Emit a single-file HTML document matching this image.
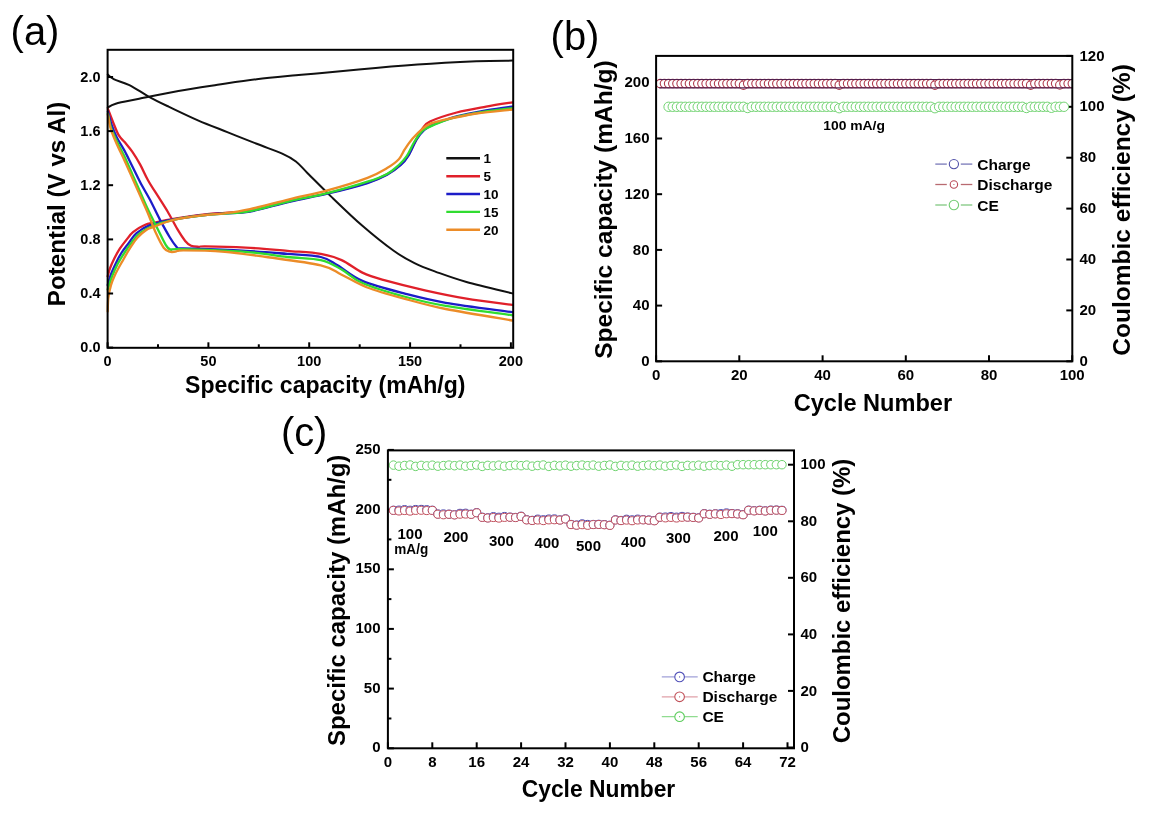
<!DOCTYPE html>
<html><head><meta charset="utf-8"><style>
html,body{margin:0;padding:0;background:#fff;}
svg{display:block;will-change:transform;}
text{font-family:"Liberation Sans",sans-serif;}
</style></head><body>
<svg width="1156" height="817" viewBox="0 0 1156 817">
<defs><clipPath id="clipb"><rect x="656.1" y="55.9" width="416.2" height="305.4"/></clipPath></defs>
<rect width="1156" height="817" fill="#fff"/>
<text x="10.61" y="44.80" font-size="40" font-weight="normal" fill="#000" textLength="48.78" lengthAdjust="spacingAndGlyphs">(a)</text>
<g fill="none" stroke-width="2.3" stroke-linejoin="round" stroke-linecap="round">
<path d="M107.8,74.5 C108.8,75.3 110.1,77.4 113.7,79.2 C117.3,81.0 123.5,82.2 129.4,85.1 C135.3,88.0 142.5,93.2 149.0,96.8 C155.5,100.4 160.4,102.7 168.6,106.6 C176.8,110.5 188.1,116.0 197.9,120.3 C207.7,124.5 217.5,128.2 227.3,132.1 C237.1,136.0 247.5,140.2 256.7,143.8 C265.8,147.4 275.7,150.7 282.2,153.6 C288.7,156.5 291.7,158.2 295.9,161.5 C300.1,164.8 301.7,167.3 307.6,173.2 C313.5,179.0 322.1,187.8 331.2,196.6 C340.3,205.4 352.0,216.8 362.4,225.8 C372.8,234.8 385.0,244.6 393.7,250.8 C402.4,257.0 407.6,259.7 414.5,263.2 C421.4,266.7 426.6,268.5 435.3,271.6 C444.0,274.7 453.7,278.4 466.5,282.0 C479.3,285.6 504.7,291.5 512.3,293.4" stroke="#111111" stroke-width="2.0"/>
<path d="M107.8,107.6 C109.1,106.9 110.5,105.2 115.7,103.7 C120.9,102.2 128.8,100.9 139.2,98.8 C149.6,96.7 165.3,93.2 178.4,90.9 C191.5,88.6 204.4,86.7 217.5,84.7 C230.6,82.8 243.6,80.8 256.7,79.2 C269.8,77.6 285.4,76.3 295.9,75.3 C306.3,74.3 308.9,74.3 319.4,73.3 C329.9,72.3 342.4,70.9 358.8,69.4 C375.2,67.9 397.9,65.9 417.5,64.5 C437.1,63.1 460.5,61.9 476.3,61.2 C492.1,60.6 506.5,60.7 512.5,60.6" stroke="#111111" stroke-width="2.0"/>
<path d="M107.9,108.8 C108.7,110.9 111.0,117.1 112.8,121.5 C114.6,125.9 116.7,131.8 118.7,135.2 C120.7,138.6 122.3,139.3 124.6,142.1 C126.9,144.9 129.8,148.2 132.4,151.9 C135.0,155.7 137.6,159.9 140.2,164.6 C142.8,169.3 145.1,175.0 148.0,180.2 C150.9,185.4 154.5,190.7 157.8,195.9 C161.1,201.1 164.3,205.9 167.6,211.5 C170.9,217.1 174.5,224.3 177.4,229.2 C180.3,234.1 182.9,238.1 185.2,240.9 C187.5,243.7 188.8,244.8 191.1,245.8 C193.4,246.8 196.6,246.7 198.9,246.8 C201.2,246.9 197.2,246.3 205.0,246.4 C212.8,246.5 232.0,246.9 245.7,247.6 C259.4,248.3 274.8,249.8 287.3,250.8 C299.8,251.9 311.8,252.3 320.8,253.9 C329.9,255.5 334.7,257.0 341.6,260.1 C348.5,263.2 355.5,269.3 362.4,272.6 C369.3,275.9 372.8,276.9 383.2,279.9 C393.6,282.8 411.0,287.2 424.9,290.3 C438.8,293.4 451.9,296.2 466.5,298.6 C481.1,301.0 504.7,303.8 512.3,304.9" stroke="#e0202a"/>
<path d="M107.7,276.3 C108.1,275.0 108.8,271.4 109.9,268.5 C111.0,265.6 112.7,261.9 114.3,258.6 C115.9,255.3 117.8,251.8 119.8,248.7 C121.8,245.6 124.2,242.7 126.4,239.9 C128.6,237.2 130.1,234.6 133.0,232.2 C135.9,229.8 140.3,226.8 144.1,225.2 C147.9,223.5 151.0,223.3 155.9,222.3 C160.8,221.3 165.3,220.3 173.5,219.0 C181.7,217.7 196.4,215.5 205.0,214.5 C213.6,213.5 217.4,213.4 224.9,212.8 C232.4,212.2 239.3,212.9 250.0,211.0 C260.7,209.1 276.1,204.3 289.2,201.3 C302.2,198.3 315.2,196.1 328.3,193.0 C341.4,189.9 357.7,185.7 367.5,182.6 C377.3,179.5 381.6,177.3 387.1,174.3 C392.7,171.3 397.2,167.8 400.8,164.5 C404.4,161.2 406.0,159.0 408.6,154.8 C411.2,150.6 414.2,143.5 416.5,139.1 C418.8,134.7 420.2,131.4 422.5,128.5 C424.8,125.6 424.3,124.2 430.0,121.5 C435.7,118.8 447.3,115.0 456.7,112.5 C466.1,110.0 476.8,108.3 486.1,106.6 C495.4,104.9 508.1,103.0 512.5,102.3" stroke="#e0202a"/>
<path d="M107.9,111.7 C108.6,114.0 110.3,121.2 111.8,125.4 C113.3,129.7 114.6,132.9 116.7,137.2 C118.8,141.4 122.0,146.0 124.6,150.9 C127.2,155.8 129.8,161.3 132.4,166.5 C135.0,171.7 137.3,176.6 140.2,182.2 C143.1,187.8 146.7,193.6 150.0,199.8 C153.3,206.0 156.5,213.2 159.8,219.4 C163.1,225.6 166.8,232.4 169.6,237.0 C172.4,241.6 174.8,244.9 176.4,246.8 C178.0,248.7 176.6,248.0 179.4,248.3 C182.2,248.6 182.1,248.3 193.1,248.7 C204.1,249.1 230.0,249.9 245.7,250.8 C261.4,251.7 274.8,252.9 287.3,253.9 C299.8,254.9 312.4,255.1 320.8,257.0 C329.2,258.9 330.6,261.3 337.5,265.3 C344.4,269.3 351.3,276.2 362.4,280.9 C373.5,285.6 390.1,289.8 404.0,293.4 C417.9,297.0 427.6,299.7 445.7,302.8 C463.8,305.9 501.2,310.6 512.3,312.2" stroke="#1c1cc8"/>
<path d="M107.7,285.1 C108.2,283.3 109.5,278.0 111.0,274.1 C112.5,270.2 114.7,265.6 116.5,261.9 C118.3,258.2 120.0,255.1 122.0,252.0 C124.0,248.9 126.2,246.3 128.6,243.2 C131.0,240.1 132.7,236.3 136.3,233.3 C139.9,230.3 143.8,227.5 150.0,225.2 C156.2,222.9 164.3,221.2 173.5,219.5 C182.7,217.8 196.4,216.0 205.0,215.0 C213.6,214.0 217.4,213.9 224.9,213.3 C232.4,212.7 239.3,213.4 250.0,211.5 C260.7,209.6 276.1,204.8 289.2,201.8 C302.2,198.8 315.2,196.6 328.3,193.5 C341.4,190.4 357.7,186.2 367.5,183.1 C377.3,180.0 381.6,177.8 387.1,174.8 C392.7,171.8 397.2,168.2 400.8,165.0 C404.4,161.8 406.0,159.5 408.6,155.3 C411.2,151.1 413.9,143.8 416.5,139.6 C419.1,135.3 421.5,132.3 424.3,129.8 C427.1,127.3 427.8,126.8 433.2,124.6 C438.6,122.4 447.9,118.8 456.7,116.4 C465.5,114.1 476.8,112.1 486.1,110.5 C495.4,108.9 508.1,107.2 512.5,106.6" stroke="#1c1cc8"/>
<path d="M107.9,113.7 C108.4,116.0 109.4,122.8 110.9,127.4 C112.4,132.0 114.4,136.2 116.7,141.1 C119.0,146.0 122.0,151.2 124.6,156.8 C127.2,162.4 129.8,168.5 132.4,174.4 C135.0,180.3 137.6,186.1 140.2,192.0 C142.8,197.9 145.1,203.4 148.0,209.6 C150.9,215.8 154.9,223.3 157.8,229.2 C160.8,235.1 163.6,241.4 165.7,244.8 C167.8,248.2 168.3,249.0 170.6,249.7 C172.9,250.4 166.9,248.8 179.4,249.1 C191.9,249.4 227.7,250.5 245.7,251.8 C263.7,253.1 274.8,255.6 287.3,257.0 C299.8,258.4 311.8,258.0 320.8,260.1 C329.9,262.2 334.7,265.7 341.6,269.5 C348.5,273.3 352.0,278.5 362.4,283.0 C372.8,287.5 390.1,292.7 404.0,296.5 C417.9,300.3 427.6,302.8 445.7,305.9 C463.8,309.0 501.2,313.7 512.3,315.3" stroke="#30dc30"/>
<path d="M107.7,289.5 C108.4,287.3 110.4,280.5 112.1,276.3 C113.8,272.1 115.6,268.0 117.6,264.1 C119.6,260.2 121.8,256.8 124.2,253.1 C126.6,249.4 129.3,245.4 131.9,242.1 C134.5,238.8 136.2,236.0 139.6,233.3 C142.9,230.7 146.3,228.4 152.0,226.2 C157.7,223.9 164.7,221.6 173.5,219.8 C182.3,218.0 196.4,216.2 205.0,215.2 C213.6,214.2 217.4,214.3 224.9,213.6 C232.4,212.9 239.3,213.1 250.0,211.1 C260.7,209.1 276.1,204.3 289.2,201.3 C302.2,198.3 315.2,196.2 328.3,192.9 C341.4,189.6 357.7,184.9 367.5,181.7 C377.3,178.5 381.9,176.7 387.1,173.9 C392.3,171.1 395.5,167.9 398.8,165.0 C402.1,162.1 404.1,160.1 406.7,156.2 C409.3,152.3 411.9,145.7 414.5,141.5 C417.1,137.3 419.7,133.3 422.3,130.8 C424.9,128.3 427.1,128.0 430.0,126.6 C432.9,125.2 435.6,124.0 440.0,122.4 C444.4,120.8 449.0,118.7 456.7,116.9 C464.4,115.1 476.8,113.0 486.1,111.5 C495.4,110.0 508.1,108.8 512.5,108.2" stroke="#30dc30"/>
<path d="M107.9,114.7 C108.4,117.2 109.4,124.5 110.9,129.4 C112.4,134.3 114.4,138.8 116.7,144.0 C119.0,149.2 122.0,155.0 124.6,160.7 C127.2,166.4 129.8,172.4 132.4,178.3 C135.0,184.2 137.6,190.0 140.2,195.9 C142.8,201.8 145.4,207.3 148.0,213.5 C150.6,219.7 153.3,227.4 155.9,233.1 C158.5,238.8 161.4,244.6 163.7,247.7 C166.0,250.8 167.6,251.0 169.6,251.7 C171.6,252.4 173.2,251.9 175.5,251.7 C177.8,251.5 175.1,250.3 183.3,250.3 C191.5,250.3 211.0,250.7 224.9,251.8 C238.8,252.9 250.5,254.8 266.5,257.0 C282.5,259.2 308.3,262.4 320.8,265.3 C333.3,268.2 334.0,271.1 341.6,274.7 C349.2,278.3 356.2,283.2 366.6,287.2 C377.0,291.2 390.8,295.0 404.0,298.6 C417.2,302.2 427.6,305.4 445.7,309.0 C463.8,312.6 501.2,318.6 512.3,320.5" stroke="#ec8c28"/>
<path d="M107.7,311.5 C107.8,309.3 107.8,302.7 108.3,298.3 C108.8,293.9 109.8,289.1 111.0,285.1 C112.2,281.1 113.6,278.0 115.4,274.1 C117.2,270.2 119.6,266.1 122.0,261.9 C124.4,257.7 127.1,252.7 129.7,248.7 C132.3,244.7 134.6,240.8 137.4,237.7 C140.2,234.6 143.6,231.8 146.3,230.0 C149.1,228.2 149.4,228.5 153.9,226.8 C158.4,225.1 165.0,221.8 173.5,219.8 C182.0,217.8 196.4,216.1 205.0,215.0 C213.6,213.9 217.4,214.3 224.9,213.3 C232.4,212.3 239.3,211.4 250.0,209.1 C260.7,206.8 276.1,202.5 289.2,199.3 C302.2,196.1 315.2,193.7 328.3,190.1 C341.4,186.5 357.7,181.5 367.5,177.8 C377.3,174.1 381.9,171.1 387.1,168.0 C392.3,164.9 395.9,162.3 398.8,159.2 C401.7,156.1 402.4,152.8 404.7,149.4 C407.0,146.0 409.7,142.0 412.6,138.6 C415.5,135.2 419.4,131.2 422.3,128.8 C425.2,126.4 427.1,125.2 430.0,123.9 C432.9,122.6 432.3,122.5 440.0,120.8 C447.7,119.1 464.2,115.4 476.3,113.5 C488.4,111.6 506.5,110.2 512.5,109.5" stroke="#ec8c28"/>
</g>
<rect x="107.6" y="49.8" width="405.6" height="298.0" fill="none" stroke="#000" stroke-width="2"/>
<line x1="107.6" y1="347.8" x2="107.6" y2="342.3" stroke="#000" stroke-width="2"/>
<text x="107.6" y="366.0" font-size="14.5" font-weight="bold" text-anchor="middle" fill="#000">0</text>
<line x1="158.0" y1="347.8" x2="158.0" y2="344.3" stroke="#000" stroke-width="2"/>
<line x1="208.4" y1="347.8" x2="208.4" y2="342.3" stroke="#000" stroke-width="2"/>
<text x="208.4" y="366.0" font-size="14.5" font-weight="bold" text-anchor="middle" fill="#000">50</text>
<line x1="258.8" y1="347.8" x2="258.8" y2="344.3" stroke="#000" stroke-width="2"/>
<line x1="309.2" y1="347.8" x2="309.2" y2="342.3" stroke="#000" stroke-width="2"/>
<text x="309.2" y="366.0" font-size="14.5" font-weight="bold" text-anchor="middle" fill="#000">100</text>
<line x1="359.7" y1="347.8" x2="359.7" y2="344.3" stroke="#000" stroke-width="2"/>
<line x1="410.1" y1="347.8" x2="410.1" y2="342.3" stroke="#000" stroke-width="2"/>
<text x="410.1" y="366.0" font-size="14.5" font-weight="bold" text-anchor="middle" fill="#000">150</text>
<line x1="460.5" y1="347.8" x2="460.5" y2="344.3" stroke="#000" stroke-width="2"/>
<line x1="510.9" y1="347.8" x2="510.9" y2="342.3" stroke="#000" stroke-width="2"/>
<text x="510.9" y="366.0" font-size="14.5" font-weight="bold" text-anchor="middle" fill="#000">200</text>
<line x1="107.6" y1="347.6" x2="113.1" y2="347.6" stroke="#000" stroke-width="2"/>
<text x="100.5" y="352.1" font-size="14.5" font-weight="bold" text-anchor="end" fill="#000">0.0</text>
<line x1="107.6" y1="293.5" x2="113.1" y2="293.5" stroke="#000" stroke-width="2"/>
<text x="100.5" y="298.0" font-size="14.5" font-weight="bold" text-anchor="end" fill="#000">0.4</text>
<line x1="107.6" y1="239.4" x2="113.1" y2="239.4" stroke="#000" stroke-width="2"/>
<text x="100.5" y="243.9" font-size="14.5" font-weight="bold" text-anchor="end" fill="#000">0.8</text>
<line x1="107.6" y1="185.2" x2="113.1" y2="185.2" stroke="#000" stroke-width="2"/>
<text x="100.5" y="189.7" font-size="14.5" font-weight="bold" text-anchor="end" fill="#000">1.2</text>
<line x1="107.6" y1="131.1" x2="113.1" y2="131.1" stroke="#000" stroke-width="2"/>
<text x="100.5" y="135.6" font-size="14.5" font-weight="bold" text-anchor="end" fill="#000">1.6</text>
<line x1="107.6" y1="77.0" x2="113.1" y2="77.0" stroke="#000" stroke-width="2"/>
<text x="100.5" y="81.5" font-size="14.5" font-weight="bold" text-anchor="end" fill="#000">2.0</text>
<text x="185.01" y="392.90" font-size="23" font-weight="bold" fill="#000" textLength="280.55" lengthAdjust="spacingAndGlyphs">Specific capacity (mAh/g)</text>
<text x="65.20" y="306.17" font-size="23" font-weight="bold" fill="#000" textLength="204.47" lengthAdjust="spacingAndGlyphs" transform="rotate(-90 65.20 306.17)">Potential (V vs Al)</text>
<line x1="446.3" y1="158.3" x2="480.0" y2="158.3" stroke="#111111" stroke-width="2.4"/>
<text x="483.5" y="163.3" font-size="13.5" font-weight="bold" text-anchor="start" fill="#000">1</text>
<line x1="446.3" y1="176.2" x2="480.0" y2="176.2" stroke="#e0202a" stroke-width="2.4"/>
<text x="483.5" y="181.2" font-size="13.5" font-weight="bold" text-anchor="start" fill="#000">5</text>
<line x1="446.3" y1="194.0" x2="480.0" y2="194.0" stroke="#1c1cc8" stroke-width="2.4"/>
<text x="483.5" y="199.0" font-size="13.5" font-weight="bold" text-anchor="start" fill="#000">10</text>
<line x1="446.3" y1="211.9" x2="480.0" y2="211.9" stroke="#30dc30" stroke-width="2.4"/>
<text x="483.5" y="216.9" font-size="13.5" font-weight="bold" text-anchor="start" fill="#000">15</text>
<line x1="446.3" y1="229.7" x2="480.0" y2="229.7" stroke="#ec8c28" stroke-width="2.4"/>
<text x="483.5" y="234.7" font-size="13.5" font-weight="bold" text-anchor="start" fill="#000">20</text>
<text x="550.61" y="50.00" font-size="40" font-weight="normal" fill="#000" textLength="48.78" lengthAdjust="spacingAndGlyphs">(b)</text>
<line x1="656.1" y1="361.3" x2="656.1" y2="355.3" stroke="#000" stroke-width="2"/>
<text x="656.1" y="380.2" font-size="15" font-weight="bold" text-anchor="middle" fill="#000">0</text>
<line x1="739.3" y1="361.3" x2="739.3" y2="355.3" stroke="#000" stroke-width="2"/>
<text x="739.3" y="380.2" font-size="15" font-weight="bold" text-anchor="middle" fill="#000">20</text>
<line x1="822.6" y1="361.3" x2="822.6" y2="355.3" stroke="#000" stroke-width="2"/>
<text x="822.6" y="380.2" font-size="15" font-weight="bold" text-anchor="middle" fill="#000">40</text>
<line x1="905.8" y1="361.3" x2="905.8" y2="355.3" stroke="#000" stroke-width="2"/>
<text x="905.8" y="380.2" font-size="15" font-weight="bold" text-anchor="middle" fill="#000">60</text>
<line x1="989.0" y1="361.3" x2="989.0" y2="355.3" stroke="#000" stroke-width="2"/>
<text x="989.0" y="380.2" font-size="15" font-weight="bold" text-anchor="middle" fill="#000">80</text>
<line x1="1072.2" y1="361.3" x2="1072.2" y2="355.3" stroke="#000" stroke-width="2"/>
<text x="1072.2" y="380.2" font-size="15" font-weight="bold" text-anchor="middle" fill="#000">100</text>
<line x1="656.1" y1="361.3" x2="662.1" y2="361.3" stroke="#000" stroke-width="2"/>
<text x="649.5" y="365.9" font-size="15" font-weight="bold" text-anchor="end" fill="#000">0</text>
<line x1="656.1" y1="305.6" x2="662.1" y2="305.6" stroke="#000" stroke-width="2"/>
<text x="649.5" y="310.2" font-size="15" font-weight="bold" text-anchor="end" fill="#000">40</text>
<line x1="656.1" y1="249.9" x2="662.1" y2="249.9" stroke="#000" stroke-width="2"/>
<text x="649.5" y="254.5" font-size="15" font-weight="bold" text-anchor="end" fill="#000">80</text>
<line x1="656.1" y1="194.2" x2="662.1" y2="194.2" stroke="#000" stroke-width="2"/>
<text x="649.5" y="198.8" font-size="15" font-weight="bold" text-anchor="end" fill="#000">120</text>
<line x1="656.1" y1="138.5" x2="662.1" y2="138.5" stroke="#000" stroke-width="2"/>
<text x="649.5" y="143.1" font-size="15" font-weight="bold" text-anchor="end" fill="#000">160</text>
<line x1="656.1" y1="82.8" x2="662.1" y2="82.8" stroke="#000" stroke-width="2"/>
<text x="649.5" y="87.4" font-size="15" font-weight="bold" text-anchor="end" fill="#000">200</text>
<line x1="1072.3" y1="361.3" x2="1066.3" y2="361.3" stroke="#000" stroke-width="2"/>
<text x="1079.5" y="365.9" font-size="15" font-weight="bold" text-anchor="start" fill="#000">0</text>
<line x1="1072.3" y1="310.4" x2="1066.3" y2="310.4" stroke="#000" stroke-width="2"/>
<text x="1079.5" y="315.0" font-size="15" font-weight="bold" text-anchor="start" fill="#000">20</text>
<line x1="1072.3" y1="259.5" x2="1066.3" y2="259.5" stroke="#000" stroke-width="2"/>
<text x="1079.5" y="264.1" font-size="15" font-weight="bold" text-anchor="start" fill="#000">40</text>
<line x1="1072.3" y1="208.6" x2="1066.3" y2="208.6" stroke="#000" stroke-width="2"/>
<text x="1079.5" y="213.2" font-size="15" font-weight="bold" text-anchor="start" fill="#000">60</text>
<line x1="1072.3" y1="157.7" x2="1066.3" y2="157.7" stroke="#000" stroke-width="2"/>
<text x="1079.5" y="162.3" font-size="15" font-weight="bold" text-anchor="start" fill="#000">80</text>
<line x1="1072.3" y1="106.8" x2="1066.3" y2="106.8" stroke="#000" stroke-width="2"/>
<text x="1079.5" y="111.4" font-size="15" font-weight="bold" text-anchor="start" fill="#000">100</text>
<line x1="1072.3" y1="55.9" x2="1066.3" y2="55.9" stroke="#000" stroke-width="2"/>
<text x="1079.5" y="60.5" font-size="15" font-weight="bold" text-anchor="start" fill="#000">120</text>
<g clip-path="url(#clipb)"><circle cx="660.26" cy="83.60" r="4.2" fill="#fff" stroke="#b03a4c" stroke-width="1.1"/><circle cx="664.42" cy="83.60" r="4.2" fill="#fff" stroke="#b03a4c" stroke-width="1.1"/><circle cx="668.58" cy="83.60" r="4.2" fill="#fff" stroke="#b03a4c" stroke-width="1.1"/><circle cx="672.75" cy="83.60" r="4.2" fill="#fff" stroke="#b03a4c" stroke-width="1.1"/><circle cx="676.91" cy="83.60" r="4.2" fill="#fff" stroke="#b03a4c" stroke-width="1.1"/><circle cx="681.07" cy="83.60" r="4.2" fill="#fff" stroke="#b03a4c" stroke-width="1.1"/><circle cx="685.23" cy="83.60" r="4.2" fill="#fff" stroke="#b03a4c" stroke-width="1.1"/><circle cx="689.39" cy="83.60" r="4.2" fill="#fff" stroke="#b03a4c" stroke-width="1.1"/><circle cx="693.55" cy="83.60" r="4.2" fill="#fff" stroke="#b03a4c" stroke-width="1.1"/><circle cx="697.72" cy="83.60" r="4.2" fill="#fff" stroke="#b03a4c" stroke-width="1.1"/><circle cx="701.88" cy="83.60" r="4.2" fill="#fff" stroke="#b03a4c" stroke-width="1.1"/><circle cx="706.04" cy="83.60" r="4.2" fill="#fff" stroke="#b03a4c" stroke-width="1.1"/><circle cx="710.20" cy="83.60" r="4.2" fill="#fff" stroke="#b03a4c" stroke-width="1.1"/><circle cx="714.36" cy="83.60" r="4.2" fill="#fff" stroke="#b03a4c" stroke-width="1.1"/><circle cx="718.52" cy="83.60" r="4.2" fill="#fff" stroke="#b03a4c" stroke-width="1.1"/><circle cx="722.68" cy="83.60" r="4.2" fill="#fff" stroke="#b03a4c" stroke-width="1.1"/><circle cx="726.85" cy="83.60" r="4.2" fill="#fff" stroke="#b03a4c" stroke-width="1.1"/><circle cx="731.01" cy="83.60" r="4.2" fill="#fff" stroke="#b03a4c" stroke-width="1.1"/><circle cx="735.17" cy="83.60" r="4.2" fill="#fff" stroke="#b03a4c" stroke-width="1.1"/><circle cx="739.33" cy="83.60" r="4.2" fill="#fff" stroke="#b03a4c" stroke-width="1.1"/><circle cx="743.49" cy="85.20" r="4.2" fill="#fff" stroke="#b03a4c" stroke-width="1.1"/><circle cx="747.65" cy="83.60" r="4.2" fill="#fff" stroke="#b03a4c" stroke-width="1.1"/><circle cx="751.81" cy="83.60" r="4.2" fill="#fff" stroke="#b03a4c" stroke-width="1.1"/><circle cx="755.98" cy="83.60" r="4.2" fill="#fff" stroke="#b03a4c" stroke-width="1.1"/><circle cx="760.14" cy="83.60" r="4.2" fill="#fff" stroke="#b03a4c" stroke-width="1.1"/><circle cx="764.30" cy="83.60" r="4.2" fill="#fff" stroke="#b03a4c" stroke-width="1.1"/><circle cx="768.46" cy="83.60" r="4.2" fill="#fff" stroke="#b03a4c" stroke-width="1.1"/><circle cx="772.62" cy="83.60" r="4.2" fill="#fff" stroke="#b03a4c" stroke-width="1.1"/><circle cx="776.78" cy="83.60" r="4.2" fill="#fff" stroke="#b03a4c" stroke-width="1.1"/><circle cx="780.95" cy="83.60" r="4.2" fill="#fff" stroke="#b03a4c" stroke-width="1.1"/><circle cx="785.11" cy="83.60" r="4.2" fill="#fff" stroke="#b03a4c" stroke-width="1.1"/><circle cx="789.27" cy="83.60" r="4.2" fill="#fff" stroke="#b03a4c" stroke-width="1.1"/><circle cx="793.43" cy="83.60" r="4.2" fill="#fff" stroke="#b03a4c" stroke-width="1.1"/><circle cx="797.59" cy="83.60" r="4.2" fill="#fff" stroke="#b03a4c" stroke-width="1.1"/><circle cx="801.75" cy="83.60" r="4.2" fill="#fff" stroke="#b03a4c" stroke-width="1.1"/><circle cx="805.91" cy="83.60" r="4.2" fill="#fff" stroke="#b03a4c" stroke-width="1.1"/><circle cx="810.08" cy="83.60" r="4.2" fill="#fff" stroke="#b03a4c" stroke-width="1.1"/><circle cx="814.24" cy="83.60" r="4.2" fill="#fff" stroke="#b03a4c" stroke-width="1.1"/><circle cx="818.40" cy="83.60" r="4.2" fill="#fff" stroke="#b03a4c" stroke-width="1.1"/><circle cx="822.56" cy="83.60" r="4.2" fill="#fff" stroke="#b03a4c" stroke-width="1.1"/><circle cx="826.72" cy="83.60" r="4.2" fill="#fff" stroke="#b03a4c" stroke-width="1.1"/><circle cx="830.88" cy="83.60" r="4.2" fill="#fff" stroke="#b03a4c" stroke-width="1.1"/><circle cx="835.04" cy="83.60" r="4.2" fill="#fff" stroke="#b03a4c" stroke-width="1.1"/><circle cx="839.21" cy="85.20" r="4.2" fill="#fff" stroke="#b03a4c" stroke-width="1.1"/><circle cx="843.37" cy="83.60" r="4.2" fill="#fff" stroke="#b03a4c" stroke-width="1.1"/><circle cx="847.53" cy="83.60" r="4.2" fill="#fff" stroke="#b03a4c" stroke-width="1.1"/><circle cx="851.69" cy="83.60" r="4.2" fill="#fff" stroke="#b03a4c" stroke-width="1.1"/><circle cx="855.85" cy="83.60" r="4.2" fill="#fff" stroke="#b03a4c" stroke-width="1.1"/><circle cx="860.01" cy="83.60" r="4.2" fill="#fff" stroke="#b03a4c" stroke-width="1.1"/><circle cx="864.18" cy="83.60" r="4.2" fill="#fff" stroke="#b03a4c" stroke-width="1.1"/><circle cx="868.34" cy="83.60" r="4.2" fill="#fff" stroke="#b03a4c" stroke-width="1.1"/><circle cx="872.50" cy="83.60" r="4.2" fill="#fff" stroke="#b03a4c" stroke-width="1.1"/><circle cx="876.66" cy="83.60" r="4.2" fill="#fff" stroke="#b03a4c" stroke-width="1.1"/><circle cx="880.82" cy="83.60" r="4.2" fill="#fff" stroke="#b03a4c" stroke-width="1.1"/><circle cx="884.98" cy="83.60" r="4.2" fill="#fff" stroke="#b03a4c" stroke-width="1.1"/><circle cx="889.14" cy="83.60" r="4.2" fill="#fff" stroke="#b03a4c" stroke-width="1.1"/><circle cx="893.31" cy="83.60" r="4.2" fill="#fff" stroke="#b03a4c" stroke-width="1.1"/><circle cx="897.47" cy="83.60" r="4.2" fill="#fff" stroke="#b03a4c" stroke-width="1.1"/><circle cx="901.63" cy="83.60" r="4.2" fill="#fff" stroke="#b03a4c" stroke-width="1.1"/><circle cx="905.79" cy="83.60" r="4.2" fill="#fff" stroke="#b03a4c" stroke-width="1.1"/><circle cx="909.95" cy="83.60" r="4.2" fill="#fff" stroke="#b03a4c" stroke-width="1.1"/><circle cx="914.11" cy="83.60" r="4.2" fill="#fff" stroke="#b03a4c" stroke-width="1.1"/><circle cx="918.27" cy="83.60" r="4.2" fill="#fff" stroke="#b03a4c" stroke-width="1.1"/><circle cx="922.44" cy="83.60" r="4.2" fill="#fff" stroke="#b03a4c" stroke-width="1.1"/><circle cx="926.60" cy="83.60" r="4.2" fill="#fff" stroke="#b03a4c" stroke-width="1.1"/><circle cx="930.76" cy="83.60" r="4.2" fill="#fff" stroke="#b03a4c" stroke-width="1.1"/><circle cx="934.92" cy="85.20" r="4.2" fill="#fff" stroke="#b03a4c" stroke-width="1.1"/><circle cx="939.08" cy="83.60" r="4.2" fill="#fff" stroke="#b03a4c" stroke-width="1.1"/><circle cx="943.24" cy="83.60" r="4.2" fill="#fff" stroke="#b03a4c" stroke-width="1.1"/><circle cx="947.40" cy="83.60" r="4.2" fill="#fff" stroke="#b03a4c" stroke-width="1.1"/><circle cx="951.57" cy="83.60" r="4.2" fill="#fff" stroke="#b03a4c" stroke-width="1.1"/><circle cx="955.73" cy="83.60" r="4.2" fill="#fff" stroke="#b03a4c" stroke-width="1.1"/><circle cx="959.89" cy="83.60" r="4.2" fill="#fff" stroke="#b03a4c" stroke-width="1.1"/><circle cx="964.05" cy="83.60" r="4.2" fill="#fff" stroke="#b03a4c" stroke-width="1.1"/><circle cx="968.21" cy="83.60" r="4.2" fill="#fff" stroke="#b03a4c" stroke-width="1.1"/><circle cx="972.37" cy="83.60" r="4.2" fill="#fff" stroke="#b03a4c" stroke-width="1.1"/><circle cx="976.54" cy="83.60" r="4.2" fill="#fff" stroke="#b03a4c" stroke-width="1.1"/><circle cx="980.70" cy="83.60" r="4.2" fill="#fff" stroke="#b03a4c" stroke-width="1.1"/><circle cx="984.86" cy="83.60" r="4.2" fill="#fff" stroke="#b03a4c" stroke-width="1.1"/><circle cx="989.02" cy="83.60" r="4.2" fill="#fff" stroke="#b03a4c" stroke-width="1.1"/><circle cx="993.18" cy="83.60" r="4.2" fill="#fff" stroke="#b03a4c" stroke-width="1.1"/><circle cx="997.34" cy="83.60" r="4.2" fill="#fff" stroke="#b03a4c" stroke-width="1.1"/><circle cx="1001.50" cy="83.60" r="4.2" fill="#fff" stroke="#b03a4c" stroke-width="1.1"/><circle cx="1005.67" cy="83.60" r="4.2" fill="#fff" stroke="#b03a4c" stroke-width="1.1"/><circle cx="1009.83" cy="83.60" r="4.2" fill="#fff" stroke="#b03a4c" stroke-width="1.1"/><circle cx="1013.99" cy="83.60" r="4.2" fill="#fff" stroke="#b03a4c" stroke-width="1.1"/><circle cx="1018.15" cy="83.60" r="4.2" fill="#fff" stroke="#b03a4c" stroke-width="1.1"/><circle cx="1022.31" cy="83.60" r="4.2" fill="#fff" stroke="#b03a4c" stroke-width="1.1"/><circle cx="1026.47" cy="83.60" r="4.2" fill="#fff" stroke="#b03a4c" stroke-width="1.1"/><circle cx="1030.63" cy="85.20" r="4.2" fill="#fff" stroke="#b03a4c" stroke-width="1.1"/><circle cx="1034.80" cy="83.60" r="4.2" fill="#fff" stroke="#b03a4c" stroke-width="1.1"/><circle cx="1038.96" cy="83.60" r="4.2" fill="#fff" stroke="#b03a4c" stroke-width="1.1"/><circle cx="1043.12" cy="83.60" r="4.2" fill="#fff" stroke="#b03a4c" stroke-width="1.1"/><circle cx="1047.28" cy="83.60" r="4.2" fill="#fff" stroke="#b03a4c" stroke-width="1.1"/><circle cx="1051.44" cy="83.60" r="4.2" fill="#fff" stroke="#b03a4c" stroke-width="1.1"/><circle cx="1055.60" cy="83.60" r="4.2" fill="#fff" stroke="#b03a4c" stroke-width="1.1"/><circle cx="1059.77" cy="85.00" r="4.2" fill="#fff" stroke="#b03a4c" stroke-width="1.1"/><circle cx="1063.93" cy="83.60" r="4.2" fill="#fff" stroke="#b03a4c" stroke-width="1.1"/><circle cx="1068.09" cy="83.60" r="4.2" fill="#fff" stroke="#b03a4c" stroke-width="1.1"/><circle cx="1072.25" cy="83.60" r="4.2" fill="#fff" stroke="#b03a4c" stroke-width="1.1"/>
<line x1="659.3" y1="79.5" x2="1072.3" y2="79.5" stroke="#52204e" stroke-width="1.2"/>
<line x1="659.3" y1="87.8" x2="1072.3" y2="87.8" stroke="#52204e" stroke-width="1.2"/>
</g>
<circle cx="668.58" cy="106.80" r="4.7" fill="#fff" stroke="#74d474" stroke-width="1.0"/><circle cx="672.75" cy="106.80" r="4.7" fill="#fff" stroke="#74d474" stroke-width="1.0"/><circle cx="676.91" cy="106.80" r="4.7" fill="#fff" stroke="#74d474" stroke-width="1.0"/><circle cx="681.07" cy="106.80" r="4.7" fill="#fff" stroke="#74d474" stroke-width="1.0"/><circle cx="685.23" cy="106.80" r="4.7" fill="#fff" stroke="#74d474" stroke-width="1.0"/><circle cx="689.39" cy="106.80" r="4.7" fill="#fff" stroke="#74d474" stroke-width="1.0"/><circle cx="693.55" cy="106.80" r="4.7" fill="#fff" stroke="#74d474" stroke-width="1.0"/><circle cx="697.72" cy="106.80" r="4.7" fill="#fff" stroke="#74d474" stroke-width="1.0"/><circle cx="701.88" cy="106.80" r="4.7" fill="#fff" stroke="#74d474" stroke-width="1.0"/><circle cx="706.04" cy="106.80" r="4.7" fill="#fff" stroke="#74d474" stroke-width="1.0"/><circle cx="710.20" cy="106.80" r="4.7" fill="#fff" stroke="#74d474" stroke-width="1.0"/><circle cx="714.36" cy="106.80" r="4.7" fill="#fff" stroke="#74d474" stroke-width="1.0"/><circle cx="718.52" cy="106.80" r="4.7" fill="#fff" stroke="#74d474" stroke-width="1.0"/><circle cx="722.68" cy="106.80" r="4.7" fill="#fff" stroke="#74d474" stroke-width="1.0"/><circle cx="726.85" cy="106.80" r="4.7" fill="#fff" stroke="#74d474" stroke-width="1.0"/><circle cx="731.01" cy="106.80" r="4.7" fill="#fff" stroke="#74d474" stroke-width="1.0"/><circle cx="735.17" cy="106.80" r="4.7" fill="#fff" stroke="#74d474" stroke-width="1.0"/><circle cx="739.33" cy="106.80" r="4.7" fill="#fff" stroke="#74d474" stroke-width="1.0"/><circle cx="743.49" cy="106.80" r="4.7" fill="#fff" stroke="#74d474" stroke-width="1.0"/><circle cx="747.65" cy="108.00" r="4.7" fill="#fff" stroke="#74d474" stroke-width="1.0"/><circle cx="751.81" cy="106.80" r="4.7" fill="#fff" stroke="#74d474" stroke-width="1.0"/><circle cx="755.98" cy="106.80" r="4.7" fill="#fff" stroke="#74d474" stroke-width="1.0"/><circle cx="760.14" cy="106.80" r="4.7" fill="#fff" stroke="#74d474" stroke-width="1.0"/><circle cx="764.30" cy="106.80" r="4.7" fill="#fff" stroke="#74d474" stroke-width="1.0"/><circle cx="768.46" cy="106.80" r="4.7" fill="#fff" stroke="#74d474" stroke-width="1.0"/><circle cx="772.62" cy="106.80" r="4.7" fill="#fff" stroke="#74d474" stroke-width="1.0"/><circle cx="776.78" cy="106.80" r="4.7" fill="#fff" stroke="#74d474" stroke-width="1.0"/><circle cx="780.95" cy="106.80" r="4.7" fill="#fff" stroke="#74d474" stroke-width="1.0"/><circle cx="785.11" cy="106.80" r="4.7" fill="#fff" stroke="#74d474" stroke-width="1.0"/><circle cx="789.27" cy="106.80" r="4.7" fill="#fff" stroke="#74d474" stroke-width="1.0"/><circle cx="793.43" cy="106.80" r="4.7" fill="#fff" stroke="#74d474" stroke-width="1.0"/><circle cx="797.59" cy="106.80" r="4.7" fill="#fff" stroke="#74d474" stroke-width="1.0"/><circle cx="801.75" cy="106.80" r="4.7" fill="#fff" stroke="#74d474" stroke-width="1.0"/><circle cx="805.91" cy="106.80" r="4.7" fill="#fff" stroke="#74d474" stroke-width="1.0"/><circle cx="810.08" cy="106.80" r="4.7" fill="#fff" stroke="#74d474" stroke-width="1.0"/><circle cx="814.24" cy="106.80" r="4.7" fill="#fff" stroke="#74d474" stroke-width="1.0"/><circle cx="818.40" cy="106.80" r="4.7" fill="#fff" stroke="#74d474" stroke-width="1.0"/><circle cx="822.56" cy="106.80" r="4.7" fill="#fff" stroke="#74d474" stroke-width="1.0"/><circle cx="826.72" cy="106.80" r="4.7" fill="#fff" stroke="#74d474" stroke-width="1.0"/><circle cx="830.88" cy="106.80" r="4.7" fill="#fff" stroke="#74d474" stroke-width="1.0"/><circle cx="835.04" cy="106.80" r="4.7" fill="#fff" stroke="#74d474" stroke-width="1.0"/><circle cx="839.21" cy="108.20" r="4.7" fill="#fff" stroke="#74d474" stroke-width="1.0"/><circle cx="843.37" cy="106.80" r="4.7" fill="#fff" stroke="#74d474" stroke-width="1.0"/><circle cx="847.53" cy="106.80" r="4.7" fill="#fff" stroke="#74d474" stroke-width="1.0"/><circle cx="851.69" cy="106.80" r="4.7" fill="#fff" stroke="#74d474" stroke-width="1.0"/><circle cx="855.85" cy="106.80" r="4.7" fill="#fff" stroke="#74d474" stroke-width="1.0"/><circle cx="860.01" cy="106.80" r="4.7" fill="#fff" stroke="#74d474" stroke-width="1.0"/><circle cx="864.18" cy="106.80" r="4.7" fill="#fff" stroke="#74d474" stroke-width="1.0"/><circle cx="868.34" cy="106.80" r="4.7" fill="#fff" stroke="#74d474" stroke-width="1.0"/><circle cx="872.50" cy="106.80" r="4.7" fill="#fff" stroke="#74d474" stroke-width="1.0"/><circle cx="876.66" cy="106.80" r="4.7" fill="#fff" stroke="#74d474" stroke-width="1.0"/><circle cx="880.82" cy="106.80" r="4.7" fill="#fff" stroke="#74d474" stroke-width="1.0"/><circle cx="884.98" cy="106.80" r="4.7" fill="#fff" stroke="#74d474" stroke-width="1.0"/><circle cx="889.14" cy="106.80" r="4.7" fill="#fff" stroke="#74d474" stroke-width="1.0"/><circle cx="893.31" cy="106.80" r="4.7" fill="#fff" stroke="#74d474" stroke-width="1.0"/><circle cx="897.47" cy="106.80" r="4.7" fill="#fff" stroke="#74d474" stroke-width="1.0"/><circle cx="901.63" cy="106.80" r="4.7" fill="#fff" stroke="#74d474" stroke-width="1.0"/><circle cx="905.79" cy="106.80" r="4.7" fill="#fff" stroke="#74d474" stroke-width="1.0"/><circle cx="909.95" cy="106.80" r="4.7" fill="#fff" stroke="#74d474" stroke-width="1.0"/><circle cx="914.11" cy="106.80" r="4.7" fill="#fff" stroke="#74d474" stroke-width="1.0"/><circle cx="918.27" cy="106.80" r="4.7" fill="#fff" stroke="#74d474" stroke-width="1.0"/><circle cx="922.44" cy="106.80" r="4.7" fill="#fff" stroke="#74d474" stroke-width="1.0"/><circle cx="926.60" cy="106.80" r="4.7" fill="#fff" stroke="#74d474" stroke-width="1.0"/><circle cx="930.76" cy="106.80" r="4.7" fill="#fff" stroke="#74d474" stroke-width="1.0"/><circle cx="934.92" cy="108.20" r="4.7" fill="#fff" stroke="#74d474" stroke-width="1.0"/><circle cx="939.08" cy="106.80" r="4.7" fill="#fff" stroke="#74d474" stroke-width="1.0"/><circle cx="943.24" cy="106.80" r="4.7" fill="#fff" stroke="#74d474" stroke-width="1.0"/><circle cx="947.40" cy="106.80" r="4.7" fill="#fff" stroke="#74d474" stroke-width="1.0"/><circle cx="951.57" cy="106.80" r="4.7" fill="#fff" stroke="#74d474" stroke-width="1.0"/><circle cx="955.73" cy="106.80" r="4.7" fill="#fff" stroke="#74d474" stroke-width="1.0"/><circle cx="959.89" cy="106.80" r="4.7" fill="#fff" stroke="#74d474" stroke-width="1.0"/><circle cx="964.05" cy="106.80" r="4.7" fill="#fff" stroke="#74d474" stroke-width="1.0"/><circle cx="968.21" cy="106.80" r="4.7" fill="#fff" stroke="#74d474" stroke-width="1.0"/><circle cx="972.37" cy="106.80" r="4.7" fill="#fff" stroke="#74d474" stroke-width="1.0"/><circle cx="976.54" cy="106.80" r="4.7" fill="#fff" stroke="#74d474" stroke-width="1.0"/><circle cx="980.70" cy="106.80" r="4.7" fill="#fff" stroke="#74d474" stroke-width="1.0"/><circle cx="984.86" cy="106.80" r="4.7" fill="#fff" stroke="#74d474" stroke-width="1.0"/><circle cx="989.02" cy="106.80" r="4.7" fill="#fff" stroke="#74d474" stroke-width="1.0"/><circle cx="993.18" cy="106.80" r="4.7" fill="#fff" stroke="#74d474" stroke-width="1.0"/><circle cx="997.34" cy="106.80" r="4.7" fill="#fff" stroke="#74d474" stroke-width="1.0"/><circle cx="1001.50" cy="106.80" r="4.7" fill="#fff" stroke="#74d474" stroke-width="1.0"/><circle cx="1005.67" cy="106.80" r="4.7" fill="#fff" stroke="#74d474" stroke-width="1.0"/><circle cx="1009.83" cy="106.80" r="4.7" fill="#fff" stroke="#74d474" stroke-width="1.0"/><circle cx="1013.99" cy="106.80" r="4.7" fill="#fff" stroke="#74d474" stroke-width="1.0"/><circle cx="1018.15" cy="106.80" r="4.7" fill="#fff" stroke="#74d474" stroke-width="1.0"/><circle cx="1022.31" cy="106.80" r="4.7" fill="#fff" stroke="#74d474" stroke-width="1.0"/><circle cx="1026.47" cy="108.00" r="4.7" fill="#fff" stroke="#74d474" stroke-width="1.0"/><circle cx="1030.63" cy="106.80" r="4.7" fill="#fff" stroke="#74d474" stroke-width="1.0"/><circle cx="1034.80" cy="106.80" r="4.7" fill="#fff" stroke="#74d474" stroke-width="1.0"/><circle cx="1038.96" cy="106.80" r="4.7" fill="#fff" stroke="#74d474" stroke-width="1.0"/><circle cx="1043.12" cy="106.80" r="4.7" fill="#fff" stroke="#74d474" stroke-width="1.0"/><circle cx="1047.28" cy="106.80" r="4.7" fill="#fff" stroke="#74d474" stroke-width="1.0"/><circle cx="1051.44" cy="107.80" r="4.7" fill="#fff" stroke="#74d474" stroke-width="1.0"/><circle cx="1055.60" cy="106.80" r="4.7" fill="#fff" stroke="#74d474" stroke-width="1.0"/><circle cx="1059.77" cy="106.80" r="4.7" fill="#fff" stroke="#74d474" stroke-width="1.0"/><circle cx="1063.93" cy="106.80" r="4.7" fill="#fff" stroke="#74d474" stroke-width="1.0"/>
<rect x="656.1" y="55.9" width="416.2" height="305.4" fill="none" stroke="#000" stroke-width="2"/>
<text x="793.66" y="410.80" font-size="23.5" font-weight="bold" fill="#000" textLength="158.49" lengthAdjust="spacingAndGlyphs">Cycle Number</text>
<text x="612.50" y="358.84" font-size="24" font-weight="bold" fill="#000" textLength="298.57" lengthAdjust="spacingAndGlyphs" transform="rotate(-90 612.50 358.84)">Specific capacity (mAh/g)</text>
<text x="1129.60" y="355.68" font-size="24" font-weight="bold" fill="#000" textLength="291.50" lengthAdjust="spacingAndGlyphs" transform="rotate(-90 1129.60 355.68)">Coulombic efficiency (%)</text>
<text x="823.20" y="129.70" font-size="13.5" font-weight="bold" fill="#000" textLength="61.72" lengthAdjust="spacingAndGlyphs">100 mA/g</text>
<line x1="935.3" y1="164.1" x2="946.8" y2="164.1" stroke="#7878b8" stroke-width="1.3"/>
<line x1="960.8" y1="164.1" x2="972.3" y2="164.1" stroke="#7878b8" stroke-width="1.3"/>
<circle cx="953.9" cy="164.1" r="4.6" fill="#fff" stroke="#5050a8" stroke-width="1.1"/>
<text x="977.3" y="169.6" font-size="15.5" font-weight="bold" text-anchor="start" fill="#000">Charge</text>
<line x1="935.3" y1="184.5" x2="946.8" y2="184.5" stroke="#b86a70" stroke-width="1.3"/>
<line x1="960.8" y1="184.5" x2="972.3" y2="184.5" stroke="#b86a70" stroke-width="1.3"/>
<circle cx="953.9" cy="184.5" r="3.7" fill="#fff" stroke="#b84a58" stroke-width="1.1"/>
<circle cx="953.9" cy="184.5" r="0.6" fill="#b84a58"/>
<text x="977.3" y="190.0" font-size="15.5" font-weight="bold" text-anchor="start" fill="#000">Discharge</text>
<line x1="935.3" y1="205.0" x2="946.8" y2="205.0" stroke="#80c880" stroke-width="1.3"/>
<line x1="960.8" y1="205.0" x2="972.3" y2="205.0" stroke="#80c880" stroke-width="1.3"/>
<circle cx="953.9" cy="205.0" r="4.7" fill="#fff" stroke="#74cc74" stroke-width="1.1"/>
<text x="977.3" y="210.5" font-size="15.5" font-weight="bold" text-anchor="start" fill="#000">CE</text>
<text x="280.91" y="445.70" font-size="40" font-weight="normal" fill="#000" textLength="46.42" lengthAdjust="spacingAndGlyphs">(c)</text>
<line x1="387.9" y1="748.3" x2="387.9" y2="742.3" stroke="#000" stroke-width="2"/>
<text x="387.9" y="766.6" font-size="15" font-weight="bold" text-anchor="middle" fill="#000">0</text>
<line x1="432.3" y1="748.3" x2="432.3" y2="742.3" stroke="#000" stroke-width="2"/>
<text x="432.3" y="766.6" font-size="15" font-weight="bold" text-anchor="middle" fill="#000">8</text>
<line x1="476.7" y1="748.3" x2="476.7" y2="742.3" stroke="#000" stroke-width="2"/>
<text x="476.7" y="766.6" font-size="15" font-weight="bold" text-anchor="middle" fill="#000">16</text>
<line x1="521.1" y1="748.3" x2="521.1" y2="742.3" stroke="#000" stroke-width="2"/>
<text x="521.1" y="766.6" font-size="15" font-weight="bold" text-anchor="middle" fill="#000">24</text>
<line x1="565.5" y1="748.3" x2="565.5" y2="742.3" stroke="#000" stroke-width="2"/>
<text x="565.5" y="766.6" font-size="15" font-weight="bold" text-anchor="middle" fill="#000">32</text>
<line x1="609.9" y1="748.3" x2="609.9" y2="742.3" stroke="#000" stroke-width="2"/>
<text x="609.9" y="766.6" font-size="15" font-weight="bold" text-anchor="middle" fill="#000">40</text>
<line x1="654.3" y1="748.3" x2="654.3" y2="742.3" stroke="#000" stroke-width="2"/>
<text x="654.3" y="766.6" font-size="15" font-weight="bold" text-anchor="middle" fill="#000">48</text>
<line x1="698.7" y1="748.3" x2="698.7" y2="742.3" stroke="#000" stroke-width="2"/>
<text x="698.7" y="766.6" font-size="15" font-weight="bold" text-anchor="middle" fill="#000">56</text>
<line x1="743.1" y1="748.3" x2="743.1" y2="742.3" stroke="#000" stroke-width="2"/>
<text x="743.1" y="766.6" font-size="15" font-weight="bold" text-anchor="middle" fill="#000">64</text>
<line x1="787.5" y1="748.3" x2="787.5" y2="742.3" stroke="#000" stroke-width="2"/>
<text x="787.5" y="766.6" font-size="15" font-weight="bold" text-anchor="middle" fill="#000">72</text>
<line x1="387.9" y1="748.3" x2="393.9" y2="748.3" stroke="#000" stroke-width="2"/>
<text x="380.5" y="752.2" font-size="15" font-weight="bold" text-anchor="end" fill="#000">0</text>
<line x1="387.9" y1="718.5" x2="391.4" y2="718.5" stroke="#000" stroke-width="2"/>
<line x1="387.9" y1="688.6" x2="393.9" y2="688.6" stroke="#000" stroke-width="2"/>
<text x="380.5" y="692.5" font-size="15" font-weight="bold" text-anchor="end" fill="#000">50</text>
<line x1="387.9" y1="658.8" x2="391.4" y2="658.8" stroke="#000" stroke-width="2"/>
<line x1="387.9" y1="628.9" x2="393.9" y2="628.9" stroke="#000" stroke-width="2"/>
<text x="380.5" y="632.8" font-size="15" font-weight="bold" text-anchor="end" fill="#000">100</text>
<line x1="387.9" y1="599.1" x2="391.4" y2="599.1" stroke="#000" stroke-width="2"/>
<line x1="387.9" y1="569.3" x2="393.9" y2="569.3" stroke="#000" stroke-width="2"/>
<text x="380.5" y="573.2" font-size="15" font-weight="bold" text-anchor="end" fill="#000">150</text>
<line x1="387.9" y1="539.4" x2="391.4" y2="539.4" stroke="#000" stroke-width="2"/>
<line x1="387.9" y1="509.6" x2="393.9" y2="509.6" stroke="#000" stroke-width="2"/>
<text x="380.5" y="513.5" font-size="15" font-weight="bold" text-anchor="end" fill="#000">200</text>
<line x1="387.9" y1="479.8" x2="391.4" y2="479.8" stroke="#000" stroke-width="2"/>
<line x1="387.9" y1="449.9" x2="393.9" y2="449.9" stroke="#000" stroke-width="2"/>
<text x="380.5" y="453.8" font-size="15" font-weight="bold" text-anchor="end" fill="#000">250</text>
<line x1="794.0" y1="747.5" x2="788.0" y2="747.5" stroke="#000" stroke-width="2"/>
<text x="800.5" y="752.1" font-size="15" font-weight="bold" text-anchor="start" fill="#000">0</text>
<line x1="794.0" y1="690.9" x2="788.0" y2="690.9" stroke="#000" stroke-width="2"/>
<text x="800.5" y="695.5" font-size="15" font-weight="bold" text-anchor="start" fill="#000">20</text>
<line x1="794.0" y1="634.4" x2="788.0" y2="634.4" stroke="#000" stroke-width="2"/>
<text x="800.5" y="639.0" font-size="15" font-weight="bold" text-anchor="start" fill="#000">40</text>
<line x1="794.0" y1="577.8" x2="788.0" y2="577.8" stroke="#000" stroke-width="2"/>
<text x="800.5" y="582.4" font-size="15" font-weight="bold" text-anchor="start" fill="#000">60</text>
<line x1="794.0" y1="521.3" x2="788.0" y2="521.3" stroke="#000" stroke-width="2"/>
<text x="800.5" y="525.9" font-size="15" font-weight="bold" text-anchor="start" fill="#000">80</text>
<line x1="794.0" y1="464.7" x2="788.0" y2="464.7" stroke="#000" stroke-width="2"/>
<text x="800.5" y="469.3" font-size="15" font-weight="bold" text-anchor="start" fill="#000">100</text>
<circle cx="393.45" cy="510.20" r="4.05" fill="#fff" stroke="#4848b0" stroke-width="1"/><circle cx="393.45" cy="510.40" r="4.05" fill="#fff" stroke="#c4505c" stroke-width="1"/><circle cx="399.00" cy="510.10" r="4.05" fill="#fff" stroke="#4848b0" stroke-width="1"/><circle cx="399.00" cy="511.00" r="4.05" fill="#fff" stroke="#c4505c" stroke-width="1"/><circle cx="404.55" cy="509.62" r="4.05" fill="#fff" stroke="#4848b0" stroke-width="1"/><circle cx="404.55" cy="510.52" r="4.05" fill="#fff" stroke="#c4505c" stroke-width="1"/><circle cx="410.10" cy="510.22" r="4.05" fill="#fff" stroke="#4848b0" stroke-width="1"/><circle cx="410.10" cy="511.12" r="4.05" fill="#fff" stroke="#c4505c" stroke-width="1"/><circle cx="415.65" cy="509.50" r="4.05" fill="#fff" stroke="#4848b0" stroke-width="1"/><circle cx="415.65" cy="510.40" r="4.05" fill="#fff" stroke="#c4505c" stroke-width="1"/><circle cx="421.20" cy="509.38" r="4.05" fill="#fff" stroke="#4848b0" stroke-width="1"/><circle cx="421.20" cy="510.28" r="4.05" fill="#fff" stroke="#c4505c" stroke-width="1"/><circle cx="426.75" cy="509.68" r="4.05" fill="#fff" stroke="#4848b0" stroke-width="1"/><circle cx="426.75" cy="510.58" r="4.05" fill="#fff" stroke="#c4505c" stroke-width="1"/><circle cx="432.30" cy="510.20" r="4.05" fill="#fff" stroke="#4848b0" stroke-width="1"/><circle cx="432.30" cy="510.40" r="4.05" fill="#fff" stroke="#c4505c" stroke-width="1"/><circle cx="437.85" cy="514.00" r="4.05" fill="#fff" stroke="#4848b0" stroke-width="1"/><circle cx="437.85" cy="514.20" r="4.05" fill="#fff" stroke="#c4505c" stroke-width="1"/><circle cx="443.40" cy="513.90" r="4.05" fill="#fff" stroke="#4848b0" stroke-width="1"/><circle cx="443.40" cy="514.80" r="4.05" fill="#fff" stroke="#c4505c" stroke-width="1"/><circle cx="448.95" cy="514.12" r="4.05" fill="#fff" stroke="#4848b0" stroke-width="1"/><circle cx="448.95" cy="514.32" r="4.05" fill="#fff" stroke="#c4505c" stroke-width="1"/><circle cx="454.50" cy="514.72" r="4.05" fill="#fff" stroke="#4848b0" stroke-width="1"/><circle cx="454.50" cy="514.92" r="4.05" fill="#fff" stroke="#c4505c" stroke-width="1"/><circle cx="460.05" cy="513.30" r="4.05" fill="#fff" stroke="#4848b0" stroke-width="1"/><circle cx="460.05" cy="514.20" r="4.05" fill="#fff" stroke="#c4505c" stroke-width="1"/><circle cx="465.60" cy="513.18" r="4.05" fill="#fff" stroke="#4848b0" stroke-width="1"/><circle cx="465.60" cy="514.08" r="4.05" fill="#fff" stroke="#c4505c" stroke-width="1"/><circle cx="471.15" cy="514.18" r="4.05" fill="#fff" stroke="#4848b0" stroke-width="1"/><circle cx="471.15" cy="514.38" r="4.05" fill="#fff" stroke="#c4505c" stroke-width="1"/><circle cx="476.70" cy="512.60" r="4.05" fill="#fff" stroke="#4848b0" stroke-width="1"/><circle cx="476.70" cy="512.80" r="4.05" fill="#fff" stroke="#c4505c" stroke-width="1"/><circle cx="482.25" cy="517.20" r="4.05" fill="#fff" stroke="#4848b0" stroke-width="1"/><circle cx="482.25" cy="517.40" r="4.05" fill="#fff" stroke="#c4505c" stroke-width="1"/><circle cx="487.80" cy="517.80" r="4.05" fill="#fff" stroke="#4848b0" stroke-width="1"/><circle cx="487.80" cy="518.00" r="4.05" fill="#fff" stroke="#c4505c" stroke-width="1"/><circle cx="493.35" cy="516.62" r="4.05" fill="#fff" stroke="#4848b0" stroke-width="1"/><circle cx="493.35" cy="517.52" r="4.05" fill="#fff" stroke="#c4505c" stroke-width="1"/><circle cx="498.90" cy="517.22" r="4.05" fill="#fff" stroke="#4848b0" stroke-width="1"/><circle cx="498.90" cy="518.12" r="4.05" fill="#fff" stroke="#c4505c" stroke-width="1"/><circle cx="504.45" cy="516.50" r="4.05" fill="#fff" stroke="#4848b0" stroke-width="1"/><circle cx="504.45" cy="517.40" r="4.05" fill="#fff" stroke="#c4505c" stroke-width="1"/><circle cx="510.00" cy="517.08" r="4.05" fill="#fff" stroke="#4848b0" stroke-width="1"/><circle cx="510.00" cy="517.28" r="4.05" fill="#fff" stroke="#c4505c" stroke-width="1"/><circle cx="515.55" cy="517.38" r="4.05" fill="#fff" stroke="#4848b0" stroke-width="1"/><circle cx="515.55" cy="517.58" r="4.05" fill="#fff" stroke="#c4505c" stroke-width="1"/><circle cx="521.10" cy="516.20" r="4.05" fill="#fff" stroke="#4848b0" stroke-width="1"/><circle cx="521.10" cy="516.40" r="4.05" fill="#fff" stroke="#c4505c" stroke-width="1"/><circle cx="526.65" cy="519.70" r="4.05" fill="#fff" stroke="#4848b0" stroke-width="1"/><circle cx="526.65" cy="519.90" r="4.05" fill="#fff" stroke="#c4505c" stroke-width="1"/><circle cx="532.20" cy="520.30" r="4.05" fill="#fff" stroke="#4848b0" stroke-width="1"/><circle cx="532.20" cy="520.50" r="4.05" fill="#fff" stroke="#c4505c" stroke-width="1"/><circle cx="537.75" cy="519.12" r="4.05" fill="#fff" stroke="#4848b0" stroke-width="1"/><circle cx="537.75" cy="520.02" r="4.05" fill="#fff" stroke="#c4505c" stroke-width="1"/><circle cx="543.30" cy="519.72" r="4.05" fill="#fff" stroke="#4848b0" stroke-width="1"/><circle cx="543.30" cy="520.62" r="4.05" fill="#fff" stroke="#c4505c" stroke-width="1"/><circle cx="548.85" cy="519.00" r="4.05" fill="#fff" stroke="#4848b0" stroke-width="1"/><circle cx="548.85" cy="519.90" r="4.05" fill="#fff" stroke="#c4505c" stroke-width="1"/><circle cx="554.40" cy="518.88" r="4.05" fill="#fff" stroke="#4848b0" stroke-width="1"/><circle cx="554.40" cy="519.78" r="4.05" fill="#fff" stroke="#c4505c" stroke-width="1"/><circle cx="559.95" cy="519.88" r="4.05" fill="#fff" stroke="#4848b0" stroke-width="1"/><circle cx="559.95" cy="520.08" r="4.05" fill="#fff" stroke="#c4505c" stroke-width="1"/><circle cx="565.50" cy="518.80" r="4.05" fill="#fff" stroke="#4848b0" stroke-width="1"/><circle cx="565.50" cy="519.00" r="4.05" fill="#fff" stroke="#c4505c" stroke-width="1"/><circle cx="571.05" cy="524.40" r="4.05" fill="#fff" stroke="#4848b0" stroke-width="1"/><circle cx="571.05" cy="524.60" r="4.05" fill="#fff" stroke="#c4505c" stroke-width="1"/><circle cx="576.60" cy="525.00" r="4.05" fill="#fff" stroke="#4848b0" stroke-width="1"/><circle cx="576.60" cy="525.20" r="4.05" fill="#fff" stroke="#c4505c" stroke-width="1"/><circle cx="582.15" cy="523.82" r="4.05" fill="#fff" stroke="#4848b0" stroke-width="1"/><circle cx="582.15" cy="524.72" r="4.05" fill="#fff" stroke="#c4505c" stroke-width="1"/><circle cx="587.70" cy="524.42" r="4.05" fill="#fff" stroke="#4848b0" stroke-width="1"/><circle cx="587.70" cy="525.32" r="4.05" fill="#fff" stroke="#c4505c" stroke-width="1"/><circle cx="593.25" cy="524.40" r="4.05" fill="#fff" stroke="#4848b0" stroke-width="1"/><circle cx="593.25" cy="524.60" r="4.05" fill="#fff" stroke="#c4505c" stroke-width="1"/><circle cx="598.80" cy="524.28" r="4.05" fill="#fff" stroke="#4848b0" stroke-width="1"/><circle cx="598.80" cy="524.48" r="4.05" fill="#fff" stroke="#c4505c" stroke-width="1"/><circle cx="604.35" cy="524.58" r="4.05" fill="#fff" stroke="#4848b0" stroke-width="1"/><circle cx="604.35" cy="524.78" r="4.05" fill="#fff" stroke="#c4505c" stroke-width="1"/><circle cx="609.90" cy="525.20" r="4.05" fill="#fff" stroke="#4848b0" stroke-width="1"/><circle cx="609.90" cy="525.40" r="4.05" fill="#fff" stroke="#c4505c" stroke-width="1"/><circle cx="615.45" cy="519.80" r="4.05" fill="#fff" stroke="#4848b0" stroke-width="1"/><circle cx="615.45" cy="520.00" r="4.05" fill="#fff" stroke="#c4505c" stroke-width="1"/><circle cx="621.00" cy="520.40" r="4.05" fill="#fff" stroke="#4848b0" stroke-width="1"/><circle cx="621.00" cy="520.60" r="4.05" fill="#fff" stroke="#c4505c" stroke-width="1"/><circle cx="626.55" cy="519.22" r="4.05" fill="#fff" stroke="#4848b0" stroke-width="1"/><circle cx="626.55" cy="520.12" r="4.05" fill="#fff" stroke="#c4505c" stroke-width="1"/><circle cx="632.10" cy="519.82" r="4.05" fill="#fff" stroke="#4848b0" stroke-width="1"/><circle cx="632.10" cy="520.72" r="4.05" fill="#fff" stroke="#c4505c" stroke-width="1"/><circle cx="637.65" cy="519.10" r="4.05" fill="#fff" stroke="#4848b0" stroke-width="1"/><circle cx="637.65" cy="520.00" r="4.05" fill="#fff" stroke="#c4505c" stroke-width="1"/><circle cx="643.20" cy="519.68" r="4.05" fill="#fff" stroke="#4848b0" stroke-width="1"/><circle cx="643.20" cy="519.88" r="4.05" fill="#fff" stroke="#c4505c" stroke-width="1"/><circle cx="648.75" cy="519.98" r="4.05" fill="#fff" stroke="#4848b0" stroke-width="1"/><circle cx="648.75" cy="520.18" r="4.05" fill="#fff" stroke="#c4505c" stroke-width="1"/><circle cx="654.30" cy="520.60" r="4.05" fill="#fff" stroke="#4848b0" stroke-width="1"/><circle cx="654.30" cy="520.80" r="4.05" fill="#fff" stroke="#c4505c" stroke-width="1"/><circle cx="659.85" cy="517.10" r="4.05" fill="#fff" stroke="#4848b0" stroke-width="1"/><circle cx="659.85" cy="517.30" r="4.05" fill="#fff" stroke="#c4505c" stroke-width="1"/><circle cx="665.40" cy="517.00" r="4.05" fill="#fff" stroke="#4848b0" stroke-width="1"/><circle cx="665.40" cy="517.90" r="4.05" fill="#fff" stroke="#c4505c" stroke-width="1"/><circle cx="670.95" cy="516.52" r="4.05" fill="#fff" stroke="#4848b0" stroke-width="1"/><circle cx="670.95" cy="517.42" r="4.05" fill="#fff" stroke="#c4505c" stroke-width="1"/><circle cx="676.50" cy="517.12" r="4.05" fill="#fff" stroke="#4848b0" stroke-width="1"/><circle cx="676.50" cy="518.02" r="4.05" fill="#fff" stroke="#c4505c" stroke-width="1"/><circle cx="682.05" cy="516.40" r="4.05" fill="#fff" stroke="#4848b0" stroke-width="1"/><circle cx="682.05" cy="517.30" r="4.05" fill="#fff" stroke="#c4505c" stroke-width="1"/><circle cx="687.60" cy="516.98" r="4.05" fill="#fff" stroke="#4848b0" stroke-width="1"/><circle cx="687.60" cy="517.18" r="4.05" fill="#fff" stroke="#c4505c" stroke-width="1"/><circle cx="693.15" cy="517.28" r="4.05" fill="#fff" stroke="#4848b0" stroke-width="1"/><circle cx="693.15" cy="517.48" r="4.05" fill="#fff" stroke="#c4505c" stroke-width="1"/><circle cx="698.70" cy="517.80" r="4.05" fill="#fff" stroke="#4848b0" stroke-width="1"/><circle cx="698.70" cy="518.00" r="4.05" fill="#fff" stroke="#c4505c" stroke-width="1"/><circle cx="704.25" cy="513.60" r="4.05" fill="#fff" stroke="#4848b0" stroke-width="1"/><circle cx="704.25" cy="513.80" r="4.05" fill="#fff" stroke="#c4505c" stroke-width="1"/><circle cx="709.80" cy="514.20" r="4.05" fill="#fff" stroke="#4848b0" stroke-width="1"/><circle cx="709.80" cy="514.40" r="4.05" fill="#fff" stroke="#c4505c" stroke-width="1"/><circle cx="715.35" cy="513.72" r="4.05" fill="#fff" stroke="#4848b0" stroke-width="1"/><circle cx="715.35" cy="513.92" r="4.05" fill="#fff" stroke="#c4505c" stroke-width="1"/><circle cx="720.90" cy="513.62" r="4.05" fill="#fff" stroke="#4848b0" stroke-width="1"/><circle cx="720.90" cy="514.52" r="4.05" fill="#fff" stroke="#c4505c" stroke-width="1"/><circle cx="726.45" cy="512.90" r="4.05" fill="#fff" stroke="#4848b0" stroke-width="1"/><circle cx="726.45" cy="513.80" r="4.05" fill="#fff" stroke="#c4505c" stroke-width="1"/><circle cx="732.00" cy="513.48" r="4.05" fill="#fff" stroke="#4848b0" stroke-width="1"/><circle cx="732.00" cy="513.68" r="4.05" fill="#fff" stroke="#c4505c" stroke-width="1"/><circle cx="737.55" cy="513.78" r="4.05" fill="#fff" stroke="#4848b0" stroke-width="1"/><circle cx="737.55" cy="513.98" r="4.05" fill="#fff" stroke="#c4505c" stroke-width="1"/><circle cx="743.10" cy="514.60" r="4.05" fill="#fff" stroke="#4848b0" stroke-width="1"/><circle cx="743.10" cy="514.80" r="4.05" fill="#fff" stroke="#c4505c" stroke-width="1"/><circle cx="748.65" cy="510.10" r="4.05" fill="#fff" stroke="#4848b0" stroke-width="1"/><circle cx="748.65" cy="510.30" r="4.05" fill="#fff" stroke="#c4505c" stroke-width="1"/><circle cx="754.20" cy="510.70" r="4.05" fill="#fff" stroke="#4848b0" stroke-width="1"/><circle cx="754.20" cy="510.90" r="4.05" fill="#fff" stroke="#c4505c" stroke-width="1"/><circle cx="759.75" cy="510.22" r="4.05" fill="#fff" stroke="#4848b0" stroke-width="1"/><circle cx="759.75" cy="510.42" r="4.05" fill="#fff" stroke="#c4505c" stroke-width="1"/><circle cx="765.30" cy="510.82" r="4.05" fill="#fff" stroke="#4848b0" stroke-width="1"/><circle cx="765.30" cy="511.02" r="4.05" fill="#fff" stroke="#c4505c" stroke-width="1"/><circle cx="770.85" cy="510.10" r="4.05" fill="#fff" stroke="#4848b0" stroke-width="1"/><circle cx="770.85" cy="510.30" r="4.05" fill="#fff" stroke="#c4505c" stroke-width="1"/><circle cx="776.40" cy="509.98" r="4.05" fill="#fff" stroke="#4848b0" stroke-width="1"/><circle cx="776.40" cy="510.18" r="4.05" fill="#fff" stroke="#c4505c" stroke-width="1"/><circle cx="781.95" cy="510.28" r="4.05" fill="#fff" stroke="#4848b0" stroke-width="1"/><circle cx="781.95" cy="510.48" r="4.05" fill="#fff" stroke="#c4505c" stroke-width="1"/>
<circle cx="393.45" cy="465.10" r="4.25" fill="#fff" stroke="#6cd26c" stroke-width="1"/><circle cx="399.00" cy="466.20" r="4.25" fill="#fff" stroke="#6cd26c" stroke-width="1"/><circle cx="404.55" cy="465.50" r="4.25" fill="#fff" stroke="#6cd26c" stroke-width="1"/><circle cx="410.10" cy="465.00" r="4.25" fill="#fff" stroke="#6cd26c" stroke-width="1"/><circle cx="415.65" cy="466.40" r="4.25" fill="#fff" stroke="#6cd26c" stroke-width="1"/><circle cx="421.20" cy="465.40" r="4.25" fill="#fff" stroke="#6cd26c" stroke-width="1"/><circle cx="426.75" cy="465.90" r="4.25" fill="#fff" stroke="#6cd26c" stroke-width="1"/><circle cx="432.30" cy="465.20" r="4.25" fill="#fff" stroke="#6cd26c" stroke-width="1"/><circle cx="437.85" cy="466.20" r="4.25" fill="#fff" stroke="#6cd26c" stroke-width="1"/><circle cx="443.40" cy="465.60" r="4.25" fill="#fff" stroke="#6cd26c" stroke-width="1"/><circle cx="448.95" cy="465.10" r="4.25" fill="#fff" stroke="#6cd26c" stroke-width="1"/><circle cx="454.50" cy="465.70" r="4.25" fill="#fff" stroke="#6cd26c" stroke-width="1"/><circle cx="460.05" cy="465.10" r="4.25" fill="#fff" stroke="#6cd26c" stroke-width="1"/><circle cx="465.60" cy="466.20" r="4.25" fill="#fff" stroke="#6cd26c" stroke-width="1"/><circle cx="471.15" cy="465.50" r="4.25" fill="#fff" stroke="#6cd26c" stroke-width="1"/><circle cx="476.70" cy="465.00" r="4.25" fill="#fff" stroke="#6cd26c" stroke-width="1"/><circle cx="482.25" cy="466.40" r="4.25" fill="#fff" stroke="#6cd26c" stroke-width="1"/><circle cx="487.80" cy="465.40" r="4.25" fill="#fff" stroke="#6cd26c" stroke-width="1"/><circle cx="493.35" cy="465.90" r="4.25" fill="#fff" stroke="#6cd26c" stroke-width="1"/><circle cx="498.90" cy="465.20" r="4.25" fill="#fff" stroke="#6cd26c" stroke-width="1"/><circle cx="504.45" cy="466.20" r="4.25" fill="#fff" stroke="#6cd26c" stroke-width="1"/><circle cx="510.00" cy="465.60" r="4.25" fill="#fff" stroke="#6cd26c" stroke-width="1"/><circle cx="515.55" cy="465.10" r="4.25" fill="#fff" stroke="#6cd26c" stroke-width="1"/><circle cx="521.10" cy="465.70" r="4.25" fill="#fff" stroke="#6cd26c" stroke-width="1"/><circle cx="526.65" cy="465.10" r="4.25" fill="#fff" stroke="#6cd26c" stroke-width="1"/><circle cx="532.20" cy="466.20" r="4.25" fill="#fff" stroke="#6cd26c" stroke-width="1"/><circle cx="537.75" cy="465.50" r="4.25" fill="#fff" stroke="#6cd26c" stroke-width="1"/><circle cx="543.30" cy="465.00" r="4.25" fill="#fff" stroke="#6cd26c" stroke-width="1"/><circle cx="548.85" cy="466.40" r="4.25" fill="#fff" stroke="#6cd26c" stroke-width="1"/><circle cx="554.40" cy="465.40" r="4.25" fill="#fff" stroke="#6cd26c" stroke-width="1"/><circle cx="559.95" cy="465.90" r="4.25" fill="#fff" stroke="#6cd26c" stroke-width="1"/><circle cx="565.50" cy="465.20" r="4.25" fill="#fff" stroke="#6cd26c" stroke-width="1"/><circle cx="571.05" cy="466.20" r="4.25" fill="#fff" stroke="#6cd26c" stroke-width="1"/><circle cx="576.60" cy="465.60" r="4.25" fill="#fff" stroke="#6cd26c" stroke-width="1"/><circle cx="582.15" cy="465.10" r="4.25" fill="#fff" stroke="#6cd26c" stroke-width="1"/><circle cx="587.70" cy="465.70" r="4.25" fill="#fff" stroke="#6cd26c" stroke-width="1"/><circle cx="593.25" cy="465.10" r="4.25" fill="#fff" stroke="#6cd26c" stroke-width="1"/><circle cx="598.80" cy="466.20" r="4.25" fill="#fff" stroke="#6cd26c" stroke-width="1"/><circle cx="604.35" cy="465.50" r="4.25" fill="#fff" stroke="#6cd26c" stroke-width="1"/><circle cx="609.90" cy="465.00" r="4.25" fill="#fff" stroke="#6cd26c" stroke-width="1"/><circle cx="615.45" cy="466.40" r="4.25" fill="#fff" stroke="#6cd26c" stroke-width="1"/><circle cx="621.00" cy="465.40" r="4.25" fill="#fff" stroke="#6cd26c" stroke-width="1"/><circle cx="626.55" cy="465.90" r="4.25" fill="#fff" stroke="#6cd26c" stroke-width="1"/><circle cx="632.10" cy="465.20" r="4.25" fill="#fff" stroke="#6cd26c" stroke-width="1"/><circle cx="637.65" cy="466.20" r="4.25" fill="#fff" stroke="#6cd26c" stroke-width="1"/><circle cx="643.20" cy="465.60" r="4.25" fill="#fff" stroke="#6cd26c" stroke-width="1"/><circle cx="648.75" cy="465.10" r="4.25" fill="#fff" stroke="#6cd26c" stroke-width="1"/><circle cx="654.30" cy="465.70" r="4.25" fill="#fff" stroke="#6cd26c" stroke-width="1"/><circle cx="659.85" cy="465.10" r="4.25" fill="#fff" stroke="#6cd26c" stroke-width="1"/><circle cx="665.40" cy="466.20" r="4.25" fill="#fff" stroke="#6cd26c" stroke-width="1"/><circle cx="670.95" cy="465.50" r="4.25" fill="#fff" stroke="#6cd26c" stroke-width="1"/><circle cx="676.50" cy="465.00" r="4.25" fill="#fff" stroke="#6cd26c" stroke-width="1"/><circle cx="682.05" cy="466.40" r="4.25" fill="#fff" stroke="#6cd26c" stroke-width="1"/><circle cx="687.60" cy="465.40" r="4.25" fill="#fff" stroke="#6cd26c" stroke-width="1"/><circle cx="693.15" cy="465.90" r="4.25" fill="#fff" stroke="#6cd26c" stroke-width="1"/><circle cx="698.70" cy="465.20" r="4.25" fill="#fff" stroke="#6cd26c" stroke-width="1"/><circle cx="704.25" cy="466.20" r="4.25" fill="#fff" stroke="#6cd26c" stroke-width="1"/><circle cx="709.80" cy="465.60" r="4.25" fill="#fff" stroke="#6cd26c" stroke-width="1"/><circle cx="715.35" cy="465.10" r="4.25" fill="#fff" stroke="#6cd26c" stroke-width="1"/><circle cx="720.90" cy="465.70" r="4.25" fill="#fff" stroke="#6cd26c" stroke-width="1"/><circle cx="726.45" cy="465.10" r="4.25" fill="#fff" stroke="#6cd26c" stroke-width="1"/><circle cx="732.00" cy="466.20" r="4.25" fill="#fff" stroke="#6cd26c" stroke-width="1"/><circle cx="737.55" cy="464.70" r="4.25" fill="#fff" stroke="#6cd26c" stroke-width="1"/><circle cx="743.10" cy="464.70" r="4.25" fill="#fff" stroke="#6cd26c" stroke-width="1"/><circle cx="748.65" cy="464.70" r="4.25" fill="#fff" stroke="#6cd26c" stroke-width="1"/><circle cx="754.20" cy="464.70" r="4.25" fill="#fff" stroke="#6cd26c" stroke-width="1"/><circle cx="759.75" cy="464.70" r="4.25" fill="#fff" stroke="#6cd26c" stroke-width="1"/><circle cx="765.30" cy="464.70" r="4.25" fill="#fff" stroke="#6cd26c" stroke-width="1"/><circle cx="770.85" cy="464.70" r="4.25" fill="#fff" stroke="#6cd26c" stroke-width="1"/><circle cx="776.40" cy="464.70" r="4.25" fill="#fff" stroke="#6cd26c" stroke-width="1"/><circle cx="781.95" cy="464.70" r="4.25" fill="#fff" stroke="#6cd26c" stroke-width="1"/>
<rect x="387.9" y="450.4" width="406.1" height="297.9" fill="none" stroke="#000" stroke-width="2"/>
<text x="521.69" y="796.60" font-size="23.5" font-weight="bold" fill="#000" textLength="153.55" lengthAdjust="spacingAndGlyphs">Cycle Number</text>
<text x="345.00" y="746.02" font-size="23.5" font-weight="bold" fill="#000" textLength="291.32" lengthAdjust="spacingAndGlyphs" transform="rotate(-90 345.00 746.02)">Specific capacity (mAh/g)</text>
<text x="849.80" y="743.26" font-size="23.5" font-weight="bold" fill="#000" textLength="284.55" lengthAdjust="spacingAndGlyphs" transform="rotate(-90 849.80 743.26)">Coulombic efficiency (%)</text>
<text x="410.0" y="538.6" font-size="15" font-weight="bold" text-anchor="middle" fill="#000">100</text>
<text x="455.9" y="541.9" font-size="15" font-weight="bold" text-anchor="middle" fill="#000">200</text>
<text x="501.4" y="546.0" font-size="15" font-weight="bold" text-anchor="middle" fill="#000">300</text>
<text x="546.9" y="547.6" font-size="15" font-weight="bold" text-anchor="middle" fill="#000">400</text>
<text x="588.5" y="551.3" font-size="15" font-weight="bold" text-anchor="middle" fill="#000">500</text>
<text x="633.6" y="546.8" font-size="15" font-weight="bold" text-anchor="middle" fill="#000">400</text>
<text x="678.4" y="542.6" font-size="15" font-weight="bold" text-anchor="middle" fill="#000">300</text>
<text x="726.0" y="541.2" font-size="15" font-weight="bold" text-anchor="middle" fill="#000">200</text>
<text x="765.3" y="535.8" font-size="15" font-weight="bold" text-anchor="middle" fill="#000">100</text>
<text x="394.32" y="554.00" font-size="14" font-weight="bold" fill="#000" textLength="33.86" lengthAdjust="spacingAndGlyphs">mA/g</text>
<line x1="661.8" y1="676.9" x2="697.7" y2="676.9" stroke="#a0a0d8" stroke-width="1.2"/>
<circle cx="679.6" cy="676.9" r="4.8" fill="#fff" stroke="#5050b8" stroke-width="1.1"/>
<circle cx="679.6" cy="676.9" r="0.6" fill="#5050b8"/>
<text x="702.4" y="682.4" font-size="15.5" font-weight="bold" text-anchor="start" fill="#000">Charge</text>
<line x1="661.8" y1="696.8" x2="697.7" y2="696.8" stroke="#e0a0a8" stroke-width="1.2"/>
<circle cx="679.6" cy="696.8" r="4.8" fill="#fff" stroke="#c05058" stroke-width="1.1"/>
<circle cx="679.6" cy="696.8" r="0.6" fill="#c05058"/>
<text x="702.4" y="702.3" font-size="15.5" font-weight="bold" text-anchor="start" fill="#000">Discharge</text>
<line x1="661.8" y1="716.7" x2="697.7" y2="716.7" stroke="#90dc90" stroke-width="1.2"/>
<circle cx="679.6" cy="716.7" r="4.8" fill="#fff" stroke="#5ccc5c" stroke-width="1.1"/>
<circle cx="679.6" cy="716.7" r="0.6" fill="#5ccc5c"/>
<text x="702.4" y="722.2" font-size="15.5" font-weight="bold" text-anchor="start" fill="#000">CE</text>
</svg>
</body></html>
